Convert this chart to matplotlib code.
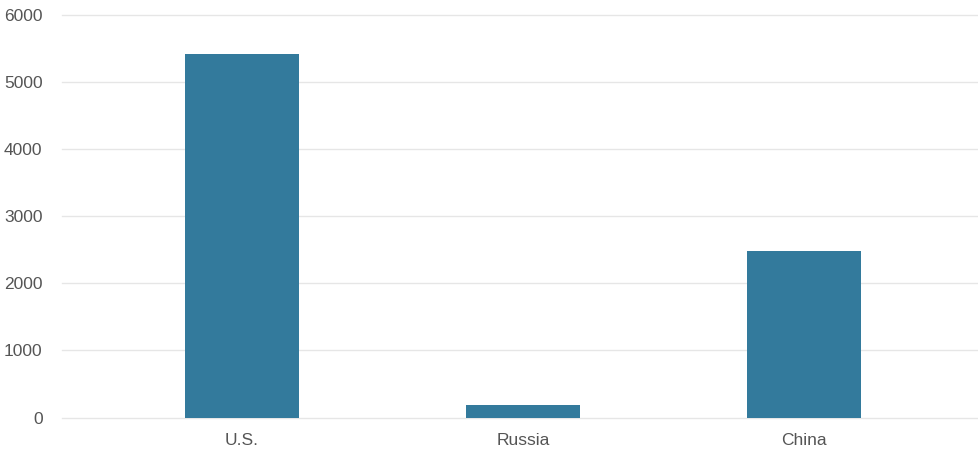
import matplotlib.pyplot as plt
import numpy as np

# Datos
paises = ['U.S.', 'Russia', 'China']
valores = [5420, 185, 2480]
ticks_y = [0, 1000, 2000, 3000, 4000, 5000, 6000]

plt.rcParams['font.family'] = ['Liberation Sans', 'DejaVu Sans']

fig = plt.figure(figsize=(9.79, 4.5), dpi=100)
ax = fig.add_axes([62 / 979, (450 - 417.5) / 450, 1 - 62 / 979, (417.5 - 15) / 450])

x = np.arange(len(paises))
ax.bar(x, valores, width=0.406, color='#337a9c', zorder=3)

ax.set_xlim(-0.64, 2.623)
ax.set_ylim(0, 6000)
ax.set_yticks(ticks_y)
ax.set_xticks(x)
ax.set_xticklabels(paises)

ax.grid(axis='y', color='#e6e6e6', linewidth=1, zorder=0)
ax.grid(axis='x', visible=False)
for linea in ax.get_ygridlines():
    linea.set_clip_on(False)
for s in ax.spines.values():
    s.set_visible(False)

ax.tick_params(axis='y', length=0, pad=14, labelsize=12.5, labelcolor='#555555')
ax.tick_params(axis='x', length=0, pad=11, labelsize=12.5, labelcolor='#555555')

fig.savefig('out.png', dpi=100)
